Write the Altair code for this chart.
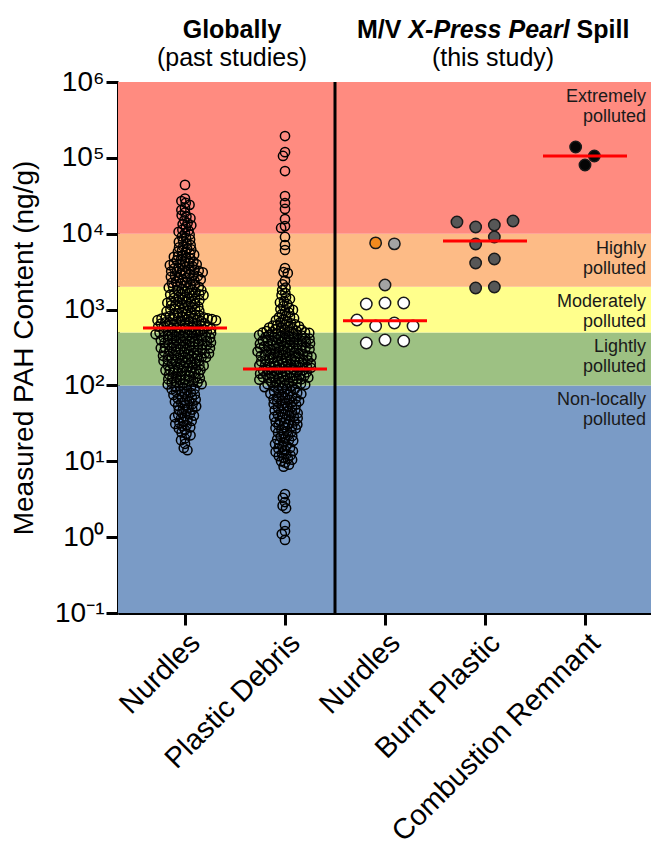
import math
import json
import altair as alt
import pandas as pd

# ---------------- data ----------------
global_categories = ["Nurdles", "Plastic Debris"]
study_categories = ["Nurdles", "Burnt Plastic", "Combustion Remnant"]

global_nurdles = [
    44000,
    29000, 27000, 25500,
    24000, 22000, 20500,
    19000, 17500, 16800, 16000,
    15000, 13800, 13300, 12900,
    12200, 11300, 11000, 10600, 10100,
    9700, 9200, 8800, 8400, 8000,
    7800, 7400, 7100, 6800, 6600, 6400,
    6200, 6000, 5800, 5600, 5450, 5300, 5150, 5050,
    4950, 4800, 4700, 4550, 4450, 4300, 4200, 4100, 4050, 4000,
    3950, 3850, 3750, 3650, 3550, 3500, 3400, 3350, 3300, 3250, 3200,
    3150, 3100, 3000, 2950, 2900, 2850, 2800, 2750, 2700, 2650, 2600, 2550,
    2500, 2450, 2400, 2350, 2300, 2250, 2200, 2150, 2100, 2060, 2030, 2000,
    1980, 1950, 1900, 1870, 1830, 1800, 1760, 1720, 1690, 1660, 1630, 1610, 1590,
    1580, 1550, 1520, 1490, 1460, 1430, 1400, 1380, 1350, 1330, 1300, 1280, 1260,
    1250, 1230, 1200, 1180, 1160, 1140, 1120, 1100, 1080, 1060, 1040, 1020, 1000,
    995, 980, 960, 945, 930, 910, 890, 875, 860, 845, 830, 820, 810, 800,
    790, 780, 770, 760, 750, 740, 730, 720, 710, 700, 690, 680, 670, 660, 650,
    785, 765, 745, 725, 705, 685, 655,
    630, 620, 612, 605, 598, 590, 580, 570, 560, 550, 540, 532, 525, 518, 510, 503,
    625, 608, 594, 575, 555, 536, 515,
    500, 493, 487, 480, 472, 465, 458, 450, 443, 436, 430, 424, 418, 412, 406, 400,
    497, 476, 461, 447, 433, 415,
    395, 390, 384, 378, 372, 366, 360, 354, 348, 342, 336, 331, 326, 321, 317,
    393, 381, 369, 351, 339, 324,
    314, 309, 304, 299, 294, 289, 284, 279, 274, 269, 264, 259, 255, 252,
    311, 296, 281, 266,
    250, 246, 242, 238, 234, 230, 226, 222, 218, 214, 210, 206, 202,
    248, 236, 224, 212,
    198, 194, 190, 186, 182, 178, 174, 170, 166, 163, 160, 158,
    196, 184, 172, 161,
    156, 152, 149, 146, 142, 139, 136, 133, 130, 127,
    154, 144, 134,
    125, 124, 121, 118, 115, 112, 111, 109, 106, 104, 103, 100,
    119, 108,
    98, 97, 95, 92, 90, 89, 86, 84, 83, 80,
    78, 76, 75, 72, 70, 69, 67, 65, 63,
    62, 61, 59, 57, 55, 54, 53, 51,
    49, 48, 47, 45, 43, 42, 41, 40,
    39, 38, 37, 35, 34, 33, 32,
    31, 30, 29, 28, 27, 26,
    24, 23, 22, 20,
    19, 17,
    15, 14,
]

global_debris = [
    194000, 119000, 106000, 67000, 31400, 25400, 21200, 15600, 12600, 11900,
    9060, 7100, 6100,
    3530, 3120, 3020,
    2400, 2150,
    1950, 1800, 1650,
    1550, 1450, 1380, 1290,
    1240, 1180, 1110, 1050, 1010,
    990, 950, 910, 870, 830, 800,
    790, 770, 745, 720, 700, 680, 660, 640,
    630, 615, 600, 590, 578, 565, 552, 540, 530, 520, 510, 503,
    622, 584, 546, 515,
    500, 492, 484, 476, 468, 460, 452, 444, 436, 428, 420, 413, 406, 400,
    496, 480, 464, 448, 432, 416,
    396, 390, 384, 378, 372, 366, 360, 354, 348, 342, 337, 332, 327, 322, 317,
    393, 381, 369, 357, 345, 330,
    315, 310, 305, 300, 295, 290, 285, 280, 275, 270, 265, 261, 257, 254, 251,
    312, 302, 292, 282, 272, 259,
    250, 246, 242, 238, 234, 230, 226, 222, 218, 214, 211, 208, 205, 202, 200,
    248, 240, 232, 224, 216, 207,
    198, 195, 192, 189, 186, 183, 180, 177, 174, 171, 168, 165, 162, 160, 158,
    196, 190, 184, 178, 172, 163,
    157, 154, 151, 148, 146, 143, 141, 138, 136, 133, 131, 129, 127, 126,
    155, 149, 144, 139, 134, 128,
    125, 123, 122, 119, 116, 113, 111, 110, 108, 106, 104, 102, 101, 100,
    121, 114, 105,
    98, 96, 95, 92, 90, 89, 86, 84, 83, 81, 80,
    78, 77, 75, 74, 72, 70, 68, 67, 66, 65, 63,
    62, 61, 60, 59, 57, 56, 55, 53, 52, 51,
    49, 48, 47, 46, 45, 44, 43, 42, 41, 40,
    39, 38.5, 38, 37, 36, 35, 34, 33.5, 33, 32,
    31, 30.5, 30, 29, 28, 27.5, 27, 26,
    25, 24.5, 24, 23, 22, 21.5, 21, 20,
    19.5, 19, 18.6, 17.7, 17.2, 16.9, 16.1,
    15.5, 15, 14.7, 14.0, 13.6, 13.3, 12.7,
    12.3, 12, 11.7, 11.1, 10.8, 10.5, 10.0,
    9.6, 9.0, 8.5,
    3.7, 3.3, 2.9, 2.6, 2.4,
    1.45, 1.2, 1.1, 0.92,
]

study_nurdles = [7570, 7350, 2110, 1184, 1221, 1221, 729, 607, 665, 607, 362, 397, 385]
study_nurdles_kind = ["Orange", "Grey", "Grey", "White", "White", "White", "White",
                      "White", "White", "White", "White", "White", "White"]
burnt_plastic = [14270, 12270, 13030, 14720, 7320, 9050, 4110, 4640, 1925, 1985]
combustion_remnant = [139000, 105800, 80500]

medians = [572, 165, 710, 8020, 105800]

kind_names = ["Orange", "Grey", "White", "Dark", "Black"]
kind_colors = ["#F28A1E", "#A3A3A3", "#FFFFFF", "#575757", "#050505"]

band_low = [0.1, 100, 500, 2000, 10000]
band_high = [100, 500, 2000, 10000, 1e6]
band_colors = ["#7A9BC6", "#9DC183", "#FFFF8C", "#FDBB86", "#FF8B80"]
band_lines = [["Non-locally", "polluted"], ["Lightly", "polluted"],
              ["Moderately", "polluted"], ["Highly", "polluted"],
              ["Extremely", "polluted"]]

y_ticks = [0.1, 1, 10, 100, 1000, 10000, 100000, 1000000]
y_tick_text = ["10\u207b\u00b9", "10\u2070", "10\u00b9", "10\u00b2", "10\u00b3",
               "10\u2074", "10\u2075", "10\u2076"]

# ---------------- layout helpers ----------------
W, H = 533, 531
XMIN, XMAX = -0.67, 4.66
YMIN, YMAX = 0.1, 1e6
PX_X = W / (XMAX - XMIN)
PX_DEC = H / (math.log10(YMAX) - math.log10(YMIN))
FONT = "Liberation Sans"


def ypx(v):
    return (math.log10(YMAX) - math.log10(v)) * PX_DEC


def swarm(vals, dc):
    ys = [ypx(v) for v in vals]
    order = sorted(range(len(vals)), key=lambda i: ys[i])
    placed = []
    xs = [0.0] * len(vals)
    for i in order:
        y = ys[i]
        blocked = []
        for (px, py) in placed:
            dy = abs(py - y)
            if dy < dc:
                dx = math.sqrt(dc * dc - dy * dy)
                blocked.append((px - dx, px + dx))
        cands = [0.0] + [a for a, b in blocked] + [b for a, b in blocked]
        cands.sort(key=abs)
        for c in cands:
            if all(not (a + 1e-6 < c < b - 1e-6) for a, b in blocked):
                xs[i] = c
                break
        placed.append((xs[i], y))
    return xs


def row_layout(vals, row_h, sp):
    ys = [ypx(v) for v in vals]
    order = sorted(range(len(vals)), key=lambda i: ys[i])
    groups, cur, start = [], [], None
    for i in order:
        if cur and ys[i] - start < row_h:
            cur.append(i)
        else:
            if cur:
                groups.append(cur)
            cur, start = [i], ys[i]
    groups.append(cur)
    offs = [0.0] * len(vals)
    for g in groups:
        g = sorted(g)
        k = len(g)
        for j, i in enumerate(g):
            offs[i] = (j - (k - 1) / 2) * sp
    return offs


recs = []
for ci, vals in enumerate([global_nurdles, global_debris]):
    for v, o in zip(vals, swarm(vals, 4.3)):
        recs.append({"x": ci + o / PX_X, "v": v})
df_global = pd.DataFrame(recs)

recs = []
study_sets = [
    (study_nurdles, study_nurdles_kind),
    (burnt_plastic, ["Dark"] * len(burnt_plastic)),
    (combustion_remnant, ["Black"] * len(combustion_remnant)),
]
for k, (vals, kinds) in enumerate(study_sets):
    ci = len(global_categories) + k
    for v, kd, o in zip(vals, kinds, row_layout(vals, 12, 18.7)):
        recs.append({"x": ci + o / PX_X, "v": v, "kind": kd})
df_study = pd.DataFrame(recs)

df_med = pd.DataFrame({
    "x": [i - 0.42 for i in range(len(medians))],
    "x2": [i + 0.42 for i in range(len(medians))],
    "v": medians,
})

df_bands = pd.DataFrame({"v": band_low, "hi": band_high, "color": band_colors,
                         "lines": band_lines})

all_cats = global_categories + study_categories
xs = alt.Scale(domain=[XMIN, XMAX], nice=False, zero=False)
ysc = alt.Scale(type="log", domain=[YMIN, YMAX], nice=False)

x_axis = alt.Axis(values=list(range(len(all_cats))),
                  labelExpr=json.dumps(all_cats) + "[round(datum.value)]",
                  labelAngle=-45, labelFontSize=29, labelFont=FONT, labelColor="black",
                  labelFlush=False, labelOverlap=False, labelPadding=3, labelLimit=600,
                  tickSize=12, tickWidth=3, tickColor="black",
                  domainWidth=3, domainColor="black", grid=False, title=None)
y_axis = alt.Axis(values=y_ticks,
                  labelExpr=json.dumps(y_tick_text, ensure_ascii=False)
                  + "[round(log(datum.value)/LN10)+1]",
                  labelFontSize=28, labelFont=FONT, labelColor="black",
                  labelPadding=2, labelOverlap=False, labelFlush=False,
                  tickSize=12, tickWidth=3, tickColor="black",
                  domainWidth=3, domainColor="black", grid=False,
                  title="Measured PAH Content (ng/g)", titleFontSize=28,
                  titleFont=FONT, titleFontWeight="normal", titleColor="black",
                  titleX=-94, titleY=H / 2, titleBaseline="middle", titleAlign="center")


def X(field):
    return alt.X(field, type="quantitative", scale=xs, axis=x_axis)


def Y(field):
    return alt.Y(field, type="quantitative", scale=ysc, axis=y_axis)


bands = alt.Chart(df_bands).mark_rect().encode(
    x=alt.value(0), x2=alt.value(W),
    y=Y("v"), y2="hi:Q",
    fill=alt.Fill("color:N", scale=None),
)

divider = alt.Chart(pd.DataFrame({"x": [len(global_categories) - 0.5]})).mark_rule(
    color="black", strokeWidth=3).encode(
    x=X("x"), y=alt.value(0), y2=alt.value(H))

gpoints = alt.Chart(df_global).mark_point(
    shape="circle", filled=False, stroke="black", strokeWidth=1.5, size=85, opacity=1
).encode(x=X("x"), y=Y("v"))

spoints = alt.Chart(df_study).mark_point(
    shape="circle", filled=True, stroke="#1a1a1a", strokeWidth=1.5, size=130, opacity=1
).encode(
    x=X("x"), y=Y("v"),
    fill=alt.Fill("kind:N", scale=alt.Scale(domain=kind_names, range=kind_colors),
                  legend=None),
)

med = alt.Chart(df_med).mark_rule(color="#FF0000", strokeWidth=3).encode(
    x=X("x"), x2="x2:Q", y=Y("v"))

band_text = alt.Chart(df_bands).mark_text(
    align="right", baseline="alphabetic", dy=20, lineHeight=20,
    fontSize=18, font=FONT, color="#1a1a1a"
).encode(x=alt.value(W - 5), y=Y("hi"), text="lines")


def label(txt, x, y, weight="normal", style="normal", align="center"):
    return alt.Chart(pd.DataFrame({"t": [txt]})).mark_text(
        align=align, baseline="alphabetic", fontSize=25, font=FONT,
        fontWeight=weight, fontStyle=style, color="black"
    ).encode(text="t:N", x=alt.value(x), y=alt.value(y))


hx = 375 - 136
headers = [
    label("Globally", 114, -44, weight="bold"),
    label("(past studies)", 114, -16),
    label("M/V", hx, -44, weight="bold", align="left"),
    label("X-Press Pearl", hx + 51.4, -44, weight="bold", style="italic", align="left"),
    label("Spill", hx + 51.4 + 161.2 + 7.0, -44, weight="bold", align="left"),
    label("(this study)", 375, -16),
]

chart = alt.layer(bands, divider, gpoints, med.transform_filter("datum.x < 1.5"),
                  spoints, med.transform_filter("datum.x > 1.5"), band_text,
                  *headers).properties(
    width=W, height=H,
    padding={"left": 118, "top": 82, "right": 0, "bottom": 236},
    autosize=alt.AutoSizeParams(type="none"),
).configure_view(stroke=None).configure(background="white")

chart.save("out.html", embed_options={"renderer": "svg", "actions": False})
